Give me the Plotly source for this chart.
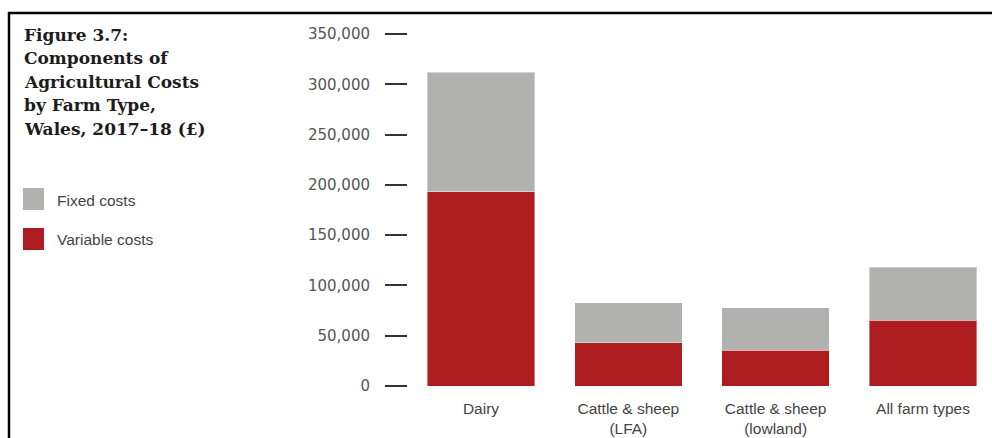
import plotly.graph_objects as go

categories = ["Dairy", "Cattle & sheep<br>(LFA)", "Cattle & sheep<br>(lowland)", "All farm types"]
variable_costs = [193000, 43000, 35700, 65400]
fixed_costs = [119000, 39800, 41900, 52800]
tick_vals = [0, 50000, 100000, 150000, 200000, 250000, 300000, 350000]
tick_text = ["0", "50,000", "100,000", "150,000", "200,000", "250,000", "300,000", "350,000"]
title_lines = ["Figure 3.7:", "Components of", "Agricultural Costs", "by Farm Type,", "Wales, 2017–18 (£)"]
legend_labels = ["Fixed costs", "Variable costs"]

RED = "#ad1c1f"
GREY = "#b1b1b0"

W, H = 992, 438
ML, MR, MT, MB = 408, 7, 24, 52
PW, PH = W - ML - MR, H - MT - MB


def px(x):
    return (x - ML) / PW


def py(y):
    return (H - MB - y) / PH


fig = go.Figure()
fig.add_trace(go.Bar(x=categories, y=variable_costs, name=legend_labels[1],
                     marker=dict(color=RED, line=dict(color="rgba(255,255,255,0.4)", width=1)),
                     width=0.73, showlegend=False))
fig.add_trace(go.Bar(x=categories, y=fixed_costs, name=legend_labels[0],
                     marker=dict(color=GREY, line=dict(color="rgba(255,255,255,0.4)", width=1)),
                     width=0.73, showlegend=False))

shapes = [
    dict(type="line", xref="paper", yref="paper", x0=px(8), x1=px(992), y0=py(13), y1=py(13),
         line=dict(color="black", width=2.5)),
    dict(type="line", xref="paper", yref="paper", x0=px(9), x1=px(9), y0=py(12), y1=py(438),
         line=dict(color="black", width=2.5)),
    dict(type="rect", xref="paper", yref="paper", x0=px(23), x1=px(44), y0=py(188), y1=py(210),
         fillcolor=GREY, line=dict(width=0)),
    dict(type="rect", xref="paper", yref="paper", x0=px(23), x1=px(44), y0=py(228), y1=py(250),
         fillcolor=RED, line=dict(width=0)),
]

annotations = []
title_y = [35, 58, 82, 105, 129]
for line, yy in zip(title_lines, title_y):
    annotations.append(dict(text="<b>" + line + "</b>", xref="paper", yref="paper",
                            x=px(22), y=py(yy), xanchor="left", yanchor="middle", showarrow=False,
                            font=dict(family="DejaVu Serif", size=17, color="#1c1c1c")))
for lab, yy in zip(legend_labels, [200, 239]):
    annotations.append(dict(text=lab, xref="paper", yref="paper", x=px(55), y=py(yy),
                            xanchor="left", yanchor="middle", showarrow=False,
                            font=dict(family="Liberation Sans", size=15.5, color="#444444")))

fig.update_layout(
    width=W, height=H,
    margin=dict(l=ML, r=MR, t=MT, b=MB, pad=0),
    barmode="stack",
    plot_bgcolor="white", paper_bgcolor="white",
    shapes=shapes, annotations=annotations,
    xaxis=dict(range=[-0.4955, 3.421], showgrid=False, zeroline=False, showline=False,
               ticks="", ticklabelstandoff=11, automargin=False,
               tickfont=dict(family="Liberation Sans", size=15.5, color="#444444"),
               fixedrange=True),
    yaxis=dict(range=[0, 360000], tickvals=tick_vals, ticktext=tick_text, showgrid=False,
               zeroline=False, showline=False, ticks="outside", ticklen=22, tickwidth=1.5,
               tickcolor="#333333", ticklabelstandoff=12, automargin=False,
               tickfont=dict(family="DejaVu Sans", size=15, color="#555555"),
               fixedrange=True),
)

fig.write_html("out.html")
